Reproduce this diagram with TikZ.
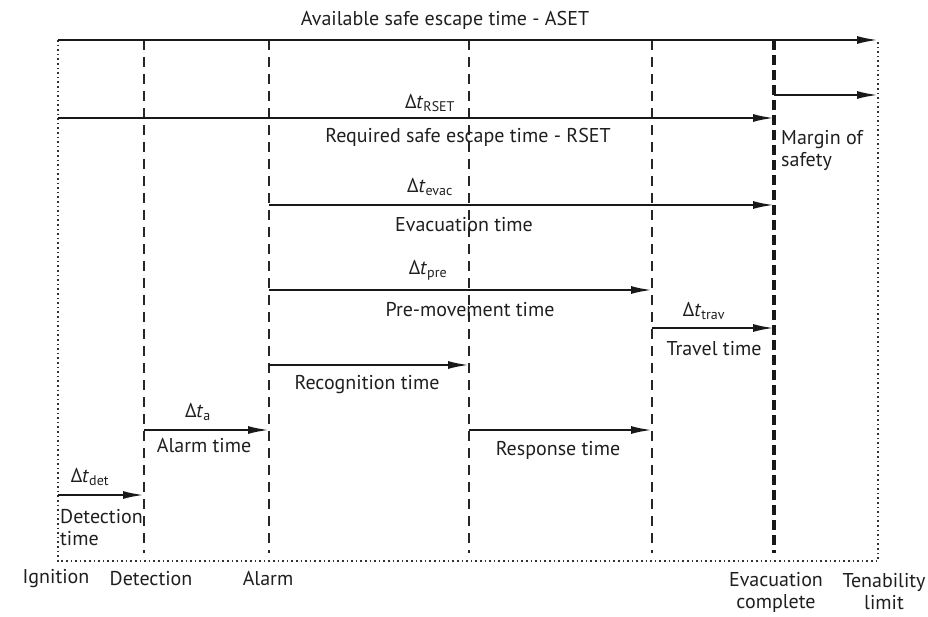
\documentclass[tikz,border=0pt]{standalone}
\usepackage{fontspec}
\setmainfont{PT Sans}
\usetikzlibrary{arrows.meta}
\usetikzlibrary{calc}
\newcommand{\dt}[1]{Δ\textit{t}\textsubscript{#1}}

\begin{document}
\begin{tikzpicture}[x=1pt,y=-1pt,font=\fontsize{20}{22}\selectfont,
  every node/.style={text=black!88},
  span/.style={line width=2.1pt,draw=black!90,-{Latex[length=21pt,width=8pt]}},
  event/.style={line width=2pt,draw=black!85,dash pattern=on 10pt off 7pt},
  evacline/.style={line width=3.2pt,draw=black!90,dash pattern=on 10pt off 5pt},
  limit/.style={line width=1.8pt,draw=black!80,dash pattern=on 1.6pt off 3pt}]
\useasboundingbox (0,0) rectangle (928,617);
% time points along the top
\coordinate (ign) at (58,40);
\coordinate (det) at (144,40);
\coordinate (alm) at (269,40);
\coordinate (rsp) at (469,40);
\coordinate (mov) at (652,40);
\coordinate (evc) at (774,40);
\coordinate (ten) at (878,40);
% frame and event lines
\draw[limit] (ign) -- (ign |- 0,561) -- (ten |- 0,561) -- (ten);
\foreach \p in {det,alm,rsp,mov}
  \draw[event] (\p) -- (\p |- 0,553);
\draw[evacline] (evc) -- (evc |- 0,553);
% ASET and margin
\draw[span] (ign) -- (ten);
\node (aset) at (445,20) {Available safe escape time - ASET};
\draw[span] (evc |- 0,95) -- (ten |- 0,95);
\node[align=left,anchor=west,inner sep=2pt] (margin) at (779,150) {Margin of\\safety};
% RSET
\draw[span] (ign |- 0,118) -- (evc |- 0,118);
\node (drset) at (430,103) {\dt{RSET}};
\node (rset) at (468,137) {Required safe escape time - RSET};
% evacuation
\draw[span] (alm |- 0,205) -- (evc |- 0,205);
\node (devac) at (430,187) {\dt{evac}};
\node (evac) at (464,225) {Evacuation time};
% pre-movement
\draw[span] (alm |- 0,290) -- (mov |- 0,290);
\node (dpre) at (428,270) {\dt{pre}};
\node (pre) at (470,310) {Pre-movement time};
% travel
\draw[span] (mov |- 0,328) -- (evc |- 0,328);
\node (dtrav) at (704,311) {\dt{trav}};
\node (trav) at (714,349) {Travel time};
% recognition and response
\draw[span] (alm |- 0,365) -- (rsp |- 0,365);
\node (recog) at (367,385) {Recognition time};
\draw[span] (rsp |- 0,430) -- (mov |- 0,430);
\node (resp) at (558,450) {Response time};
% alarm and detection
\draw[span] (det |- 0,430) -- (alm |- 0,430);
\node (da) at (198,412) {\dt{a}};
\node (alarm) at (204,446) {Alarm time};
\draw[span] (ign |- 0,495) -- (det |- 0,495);
\node (ddet) at (90,477) {\dt{det}};
\node[align=left,anchor=west,inner sep=1pt] (detect) at (59,528) {Detection\\time};
% event names
\node (l-ign) at (56,579) {Ignition};
\node (l-det) at (151,579) {Detection};
\node (l-alm) at (268,579) {Alarm};
\node[align=center] (l-evc) at (776,592) {Evacuation\\complete};
\node[align=center] (l-ten) at (884,592) {Tenability\\limit};
\end{tikzpicture}
\end{document}
